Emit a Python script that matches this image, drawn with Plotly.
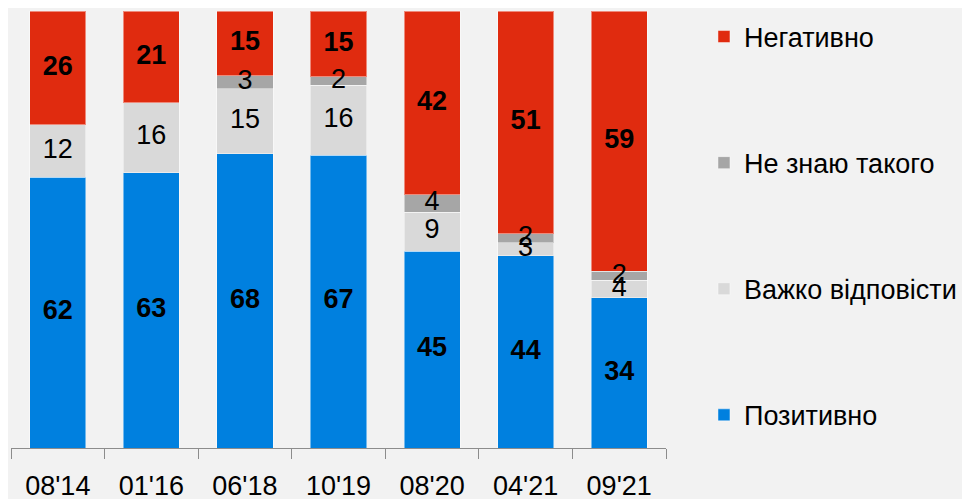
import plotly.graph_objects as go

categories = ["08'14", "01'16", "06'18", "10'19", "08'20", "04'21", "09'21"]
positive = [62, 63, 68, 67, 45, 44, 34]
hard_to_say = [12, 16, 15, 16, 9, 3, 4]
dont_know = [None, None, 3, 2, 4, 2, 2]
negative = [26, 21, 15, 15, 42, 51, 59]

series_names = ["Позитивно", "Важко відповісти", "Не знаю такого", "Негативно"]
series_values = [positive, hard_to_say, dont_know, negative]
colors = ["#0080df", "#d9d9d9", "#a6a6a6", "#e02b0f"]
bold = [True, False, False, True]

FONT = "Liberation Sans, Arial, sans-serif"

fig = go.Figure()
for i, (name, vals, col) in enumerate(zip(series_names, series_values, colors)):
    fig.add_trace(go.Bar(
        x=categories,
        y=[v if v is not None else 0 for v in vals],
        name=name,
        legendgroup=name,
        legendrank=len(series_names) - i,
        marker=dict(color=col, line=dict(color="rgba(255,255,255,0.45)", width=1)),
        width=0.6,
        customdata=[v if v is not None else "" for v in vals],
        hovertemplate="%{x}: %{customdata}<extra>" + name + "</extra>",
    ))

# value labels, centred in each (normalised) stack segment, drawn above all bars
totals = [sum(s[j] or 0 for s in series_values) for j in range(len(categories))]
lab = {True: ([], [], []), False: ([], [], [])}
for j, cat in enumerate(categories):
    base = 0.0
    for vals, b in zip(series_values, bold):
        v = vals[j]
        if v is None:
            continue
        h = v * 100.0 / totals[j]
        xs, ys, ts = lab[b]
        xs.append(cat)
        ys.append(base + h / 2)
        ts.append(str(v))
        base += h

for b in (False, True):
    xs, ys, ts = lab[b]
    fig.add_trace(go.Scatter(
        x=xs, y=ys, text=ts, mode="text",
        textposition="middle center",
        textfont=dict(family=FONT, size=27, color="black",
                      weight="bold" if b else "normal"),
        showlegend=False, hoverinfo="skip", cliponaxis=False,
    ))

fig.update_layout(
    barmode="stack",
    barnorm="percent",
    width=970,
    height=499,
    margin=dict(l=3, r=312, t=3, b=59, autoexpand=False),
    paper_bgcolor="#f2f2f2",
    plot_bgcolor="#f2f2f2",
    font=dict(family=FONT, color="black"),
    showlegend=True,
    legend=dict(
        xref="container", yref="container",
        x=0.7175, xanchor="left",
        y=0.991, yanchor="top",
        maxheight=495,
        traceorder="grouped",
        tracegroupgap=88,
        font=dict(family=FONT, size=27, color="black"),
        bgcolor="rgba(0,0,0,0)",
    ),
    xaxis=dict(
        type="category",
        range=[-0.5, 6.5],
        automargin=False,
        showline=True,
        linecolor="#8c8c8c",
        linewidth=1,
        ticks="outside",
        tickson="boundaries",
        ticklen=10,
        tickcolor="#8c8c8c",
        ticklabelstandoff=14,
        tickfont=dict(family=FONT, size=27, color="black"),
        showgrid=False,
        zeroline=False,
    ),
    yaxis=dict(range=[0, 100], visible=False, showgrid=False, automargin=False),
)

fig.write_html("out.html")
